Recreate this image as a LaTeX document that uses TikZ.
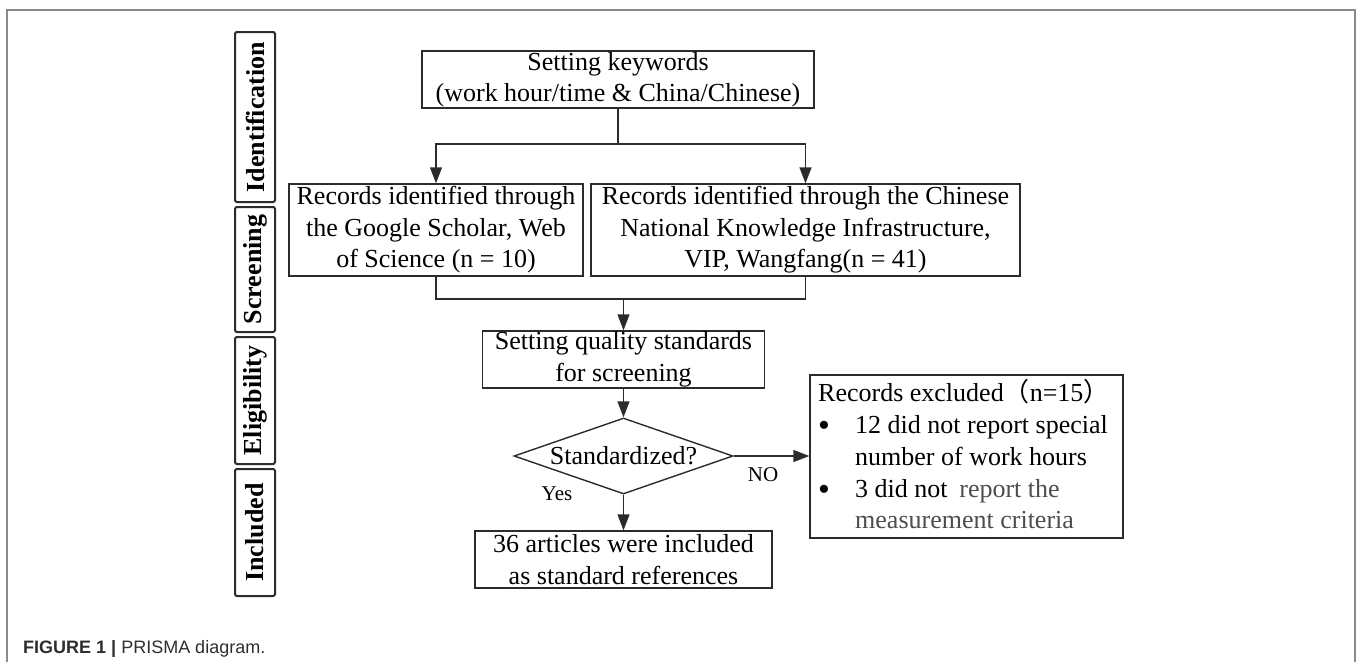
\documentclass[tikz,border=0pt]{standalone}
\usepackage{fontspec}
\setmainfont{Liberation Serif}
\setsansfont{Liberation Sans}
\newfontfamily\cjkfont{Noto Sans CJK SC}
\usetikzlibrary{arrows.meta,shapes.geometric}
\definecolor{framegray}{HTML}{8A8A8A}
\definecolor{linecol}{HTML}{2B2B2B}
\definecolor{captiongray}{HTML}{2E2E2E}
\definecolor{softtext}{HTML}{4D4D4D}
\newcommand{\bigbullet}{\raisebox{-3.5pt}{\scalebox{1.3}{\textbullet}}}
\begin{document}
\begin{tikzpicture}[x=1pt,y=-1pt,
  box/.style={draw=linecol,line width=1.4pt,inner sep=0pt,align=center,
    font=\fontsize{26}{31.5}\selectfont,text=black},
  stagebox/.style={draw=linecol,line width=2pt,rounded corners=2pt,inner sep=0pt,
    minimum height=40pt,rotate=90,font=\fontsize{26}{30}\selectfont\bfseries,text=black},
  txt/.style={inner sep=0pt,font=\fontsize{26}{31.5}\selectfont,text=black},
  lbl/.style={inner sep=0pt,font=\fontsize{21}{24}\selectfont,text=black},
  ln/.style={draw=linecol,line width=1.4pt},
  arr/.style={ln,-{Triangle[length=16pt,width=12pt]}}
]
\useasboundingbox (0,0) rectangle (1358,662);
% outer frame
\draw[framegray,line width=2pt] (7,662) -- (7,10) -- (1355,10) -- (1355,662);

% stage labels
\node[stagebox,minimum width=170pt] (sid) at (255,117) {Identification};
\node[stagebox,minimum width=125pt] (sscr) at (255,269.5) {Screening};
\node[stagebox,minimum width=127pt] (selig) at (255,400.5) {Eligibility};
\node[stagebox,minimum width=127pt] (sincl) at (255,532.5) {Included};

% boxes
\node[box,minimum width=392pt,minimum height=57pt] (top) at (618,79.5)
  {Setting keywords\\(work hour/time \& China/Chinese)};
\node[box,minimum width=294pt,minimum height=92pt] (left) at (436,230)
  {Records identified through\\the Google Scholar, Web\\of Science (n = 10)};
\node[box,minimum width=429pt,minimum height=92pt] (right) at (805.5,230)
  {Records identified through the Chinese\\National Knowledge Infrastructure,\\VIP, Wangfang(n = 41)};
\node[box,minimum width=282pt,minimum height=57pt] (quality) at (623.5,359.5)
  {Setting quality standards\\for screening};
\node[box,diamond,aspect=2.88,minimum width=219pt,minimum height=76pt] (dia) at (623.5,456)
  {Standardized?};
\node[box,minimum width=297pt,minimum height=57pt] (final) at (623.5,559.5)
  {36 articles were included\\as standard references};
\node[box,minimum width=313pt,minimum height=163pt] (excl) at (966.5,456.5) {};

% excluded box contents
\node[txt,anchor=base west] (ex1) at (818,401)
  {Records excluded{\cjkfont （}n=15{\cjkfont ）}};
\node[txt,anchor=base west] (ex2) at (818,433)
  {\makebox[37pt][l]{\bigbullet}12 did not report special};
\node[txt,anchor=base west] (ex3) at (855,465) {number of work hours};
\node[txt,anchor=base west] (ex4) at (818,497)
  {\makebox[37pt][l]{\bigbullet}3 did not\hspace{0.45em}\textcolor{softtext}{report the}};
\node[txt,anchor=base west,text=softtext] (ex5) at (855,528) {measurement criteria};

% connectors
\coordinate (split) at (618,144);
\coordinate (merge) at (623.5,299);
\draw[ln] (top.south) -- (split);
\draw[arr] (split) -| (left.north);
\draw[arr] (split) -| (right.north);
\draw[ln] (left.south) |- (merge);
\draw[ln] (right.south) |- (merge);
\draw[arr] (merge) -- (quality.north);
\draw[arr] (quality.south) -- (dia.north);
\draw[arr] (dia.east) -- (excl.west |- dia.east);
\draw[arr] (dia.south) -- (final.north);

% branch labels
\node[lbl,anchor=base] (no) at (763,481) {NO};
\node[lbl,anchor=base] (yes) at (557,500) {Yes};

% caption
\node[inner sep=0pt,anchor=base west,font=\sffamily\fontsize{18}{22}\selectfont,text=captiongray] (cap)
  at (23,653) {\textbf{FIGURE 1 \textbar} PRISMA diagram.};
\end{tikzpicture}
\end{document}
